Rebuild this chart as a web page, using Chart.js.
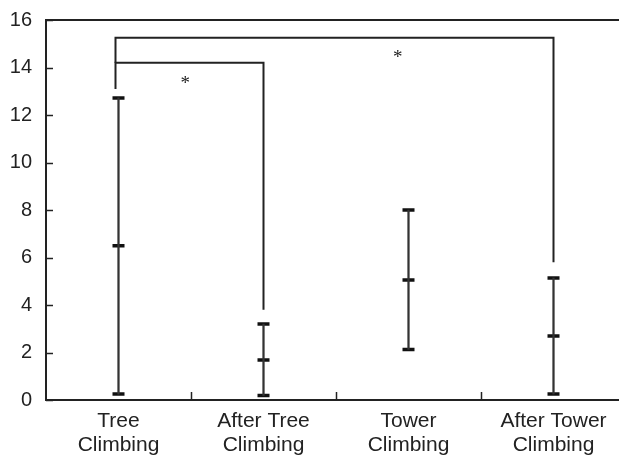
<!DOCTYPE html>
<html>
<head>
<meta charset="utf-8">
<script src="https://cdn.jsdelivr.net/npm/chart.js@4/dist/chart.umd.min.js"></script>
<style>
  html, body { margin: 0; padding: 0; background: #fff; overflow: hidden; width: 619px; height: 457px; }
  #wrap { position: absolute; left: 0; top: 0; width: 626px; height: 457px; }
</style>
</head>
<body>
<div id="wrap"><canvas id="chart"></canvas></div>
<script>
const categories = [['Tree', 'Climbing'], ['After Tree', 'Climbing'], ['Tower', 'Climbing'], ['After Tower', 'Climbing']];
const minValues = [0.25, 0.19, 2.13, 0.25];
const medianValues = [6.5, 1.68, 5.05, 2.69];
const maxValues = [12.72, 3.2, 8.0, 5.14];
const yTicks = [0, 2, 4, 6, 8, 10, 12, 14, 16];

// significance brackets: from/to category index, bar height, end heights, star position
const brackets = [
    { from: 0, to: 1, y: 14.2, fromEnd: 13.1, toEnd: 3.8, starX: 0.46, starY: 13.45 },
    { from: 0, to: 3, y: 15.25, fromEnd: 14.2, toEnd: 5.8, starX: 1.925, starY: 14.52 },
];

const ink = '#222';

const annotations = {
    id: 'annotations',
    afterDatasetsDraw(chart) {
        const { ctx, chartArea, scales } = chart;
        const x = scales.x;
        const y = scales.y;

        ctx.save();
        ctx.strokeStyle = ink;
        ctx.lineCap = 'butt';

        // top border
        ctx.lineWidth = 2;
        ctx.beginPath();
        ctx.moveTo(chartArea.left, chartArea.top);
        ctx.lineTo(chartArea.right, chartArea.top);
        ctx.stroke();

        // inside ticks on y axis
        ctx.lineWidth = 1.5;
        yTicks.forEach((v) => {
            const py = Math.round(y.getPixelForValue(v)) + 0.5;
            ctx.beginPath();
            ctx.moveTo(chartArea.left, py);
            ctx.lineTo(chartArea.left + 7, py);
            ctx.stroke();
        });

        // inside separator ticks on x axis
        for (let i = 0; i < categories.length - 1; i++) {
            const px = Math.round(x.getPixelForValue(i + 0.5)) + 0.5;
            ctx.beginPath();
            ctx.moveTo(px, chartArea.bottom);
            ctx.lineTo(px, chartArea.bottom - 8);
            ctx.stroke();
        }

        // brackets
        ctx.lineWidth = 2;
        brackets.forEach((b) => {
            const x1 = x.getPixelForValue(b.from) - 3;
            const x2 = x.getPixelForValue(b.to);
            const py = y.getPixelForValue(b.y);
            ctx.beginPath();
            ctx.moveTo(x1, y.getPixelForValue(b.fromEnd));
            ctx.lineTo(x1, py);
            ctx.lineTo(x2, py);
            ctx.lineTo(x2, y.getPixelForValue(b.toEnd));
            ctx.stroke();

            ctx.fillStyle = ink;
            ctx.font = '19px "Liberation Serif", "DejaVu Serif", serif';
            ctx.textAlign = 'center';
            ctx.textBaseline = 'middle';
            ctx.fillText('*', x.getPixelForValue(b.starX), y.getPixelForValue(b.starY) + 3);
        });

        ctx.restore();
    },
};

const capStyle = {
    type: 'line',
    showLine: false,
    pointStyle: 'line',
    pointRadius: 6,
    borderWidth: 3.5,
    borderColor: '#111',
};

new Chart(document.getElementById('chart'), {
    data: {
        labels: categories,
        datasets: [
            {
                type: 'bar',
                data: minValues.map((v, i) => [v, maxValues[i]]),
                backgroundColor: '#333',
                barThickness: 1.6,
                grouped: false,
            },
            { ...capStyle, data: minValues },
            { ...capStyle, data: medianValues },
            { ...capStyle, data: maxValues },
        ],
    },
    options: {
        responsive: true,
        maintainAspectRatio: false,
        animation: false,
        layout: {
            autoPadding: false,
            padding: { top: 20, right: 0, left: 0, bottom: 0 },
        },
        plugins: {
            legend: { display: false },
            tooltip: { enabled: false },
        },
        scales: {
            x: {
                offset: true,
                grid: { display: false, drawTicks: false },
                border: { color: ink, width: 2 },
                ticks: {
                    color: ink,
                    padding: 9,
                    maxRotation: 0,
                    font: { family: '"Liberation Sans", Arial, sans-serif', size: 21, lineHeight: 1.15 },
                },
                afterFit(scale) {
                    scale.height = 57;
                    scale.paddingLeft = 0;
                    scale.paddingRight = 0;
                },
            },
            y: {
                min: 0,
                max: 16,
                afterBuildTicks(scale) {
                    scale.ticks = yTicks.map((v) => ({ value: v }));
                },
                grid: { display: false, drawTicks: false },
                border: { color: ink, width: 2 },
                ticks: {
                    color: ink,
                    padding: 14,
                    font: { family: '"Liberation Sans", Arial, sans-serif', size: 20 },
                },
                afterFit(scale) {
                    scale.width = 46;
                    scale.paddingTop = 0;
                    scale.paddingBottom = 0;
                },
            },
        },
    },
    plugins: [annotations],
});
</script>
</body>
</html>
